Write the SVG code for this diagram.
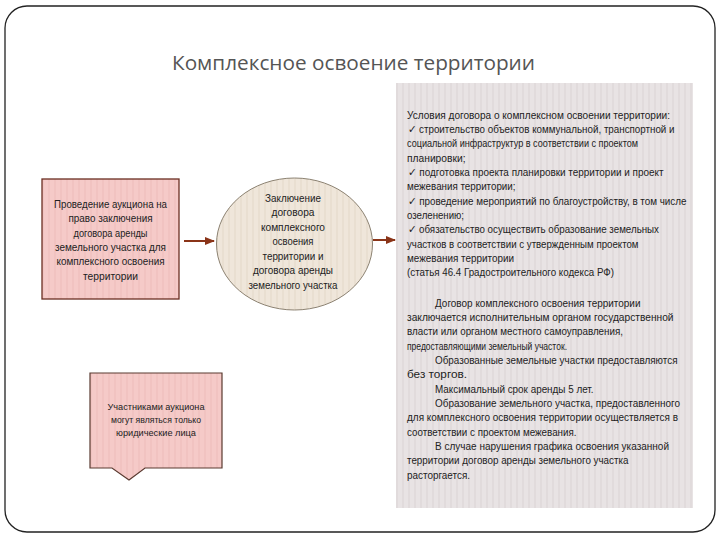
<svg xmlns="http://www.w3.org/2000/svg" width="720" height="540" viewBox="0 0 720 540">
<defs>
<pattern id="stripePink" width="6" height="10" patternUnits="userSpaceOnUse">
<rect width="6" height="10" fill="#f5cac8"/>
<rect x="0" width="2" height="10" fill="#f1c3c1"/>
</pattern>
<pattern id="stripeBeige" width="6" height="10" patternUnits="userSpaceOnUse">
<rect width="6" height="10" fill="#efe6da"/>
<rect x="0" width="2" height="10" fill="#e9dfd1"/>
</pattern>
<pattern id="stripeGray" width="6" height="10" patternUnits="userSpaceOnUse">
<rect width="6" height="10" fill="#e8e3e4"/>
<rect x="0" width="2" height="10" fill="#e1dbdc"/>
</pattern>
<marker id="arr" viewBox="0 0 10 10" refX="9" refY="5" markerWidth="5" markerHeight="5" orient="auto" markerUnits="strokeWidth">
<path d="M0,1 L10,5 L0,9 Z" fill="#8a3418"/>
</marker>
</defs>
<style>
.t{font-family:"Liberation Sans",Arial,sans-serif;font-size:10.5px;fill:#222}
.c{text-anchor:middle}
.s{font-size:9.5px}
.title{font-family:"Open Sans","Noto Sans",sans-serif;font-size:20px;fill:#555;text-anchor:middle}
.conn{stroke:#8a3418;stroke-width:2;fill:none}
</style>
<rect width="720" height="540" fill="#ffffff"/>
<g id="frame">
<rect x="5" y="6" width="710" height="526" rx="22" ry="22" fill="none" stroke="#222" stroke-width="1.3"/>
</g>
<g id="title">
<text class="title" x="353.5" y="70" textLength="363" lengthAdjust="spacingAndGlyphs">Комплексное освоение территории</text>
</g>
<g id="node-conditions">
<rect x="396" y="83" width="297" height="425" fill="url(#stripeGray)"/>
<text class="t" x="407" y="118.5" textLength="263" lengthAdjust="spacingAndGlyphs">Условия договора о комплексном освоении территории:</text>
<text class="t" x="408" y="132.9" textLength="266.5" lengthAdjust="spacingAndGlyphs">✓ строительство объектов коммунальной, транспортной и</text>
<text class="t" x="407" y="147.2" textLength="231" lengthAdjust="spacingAndGlyphs">социальной инфраструктур в соответствии с проектом</text>
<text class="t" x="407" y="161.6" textLength="58.5" lengthAdjust="spacingAndGlyphs">планировки;</text>
<text class="t" x="408" y="175.9" textLength="255.5" lengthAdjust="spacingAndGlyphs">✓ подготовка проекта планировки территории и проект</text>
<text class="t" x="407" y="190.3" textLength="108.5" lengthAdjust="spacingAndGlyphs">межевания территории;</text>
<text class="t" x="408" y="204.6" textLength="278.5" lengthAdjust="spacingAndGlyphs">✓ проведение мероприятий по благоустройству, в том числе</text>
<text class="t" x="407" y="219" textLength="57" lengthAdjust="spacingAndGlyphs">озеленению;</text>
<text class="t" x="408" y="233.3" textLength="251" lengthAdjust="spacingAndGlyphs">✓ обязательство осуществить образование земельных</text>
<text class="t" x="407" y="247.7" textLength="231.5" lengthAdjust="spacingAndGlyphs">участков в соответствии с утвержденным проектом</text>
<text class="t" x="407" y="262" textLength="107" lengthAdjust="spacingAndGlyphs">межевания территории</text>
<text class="t" x="407" y="276.4" textLength="207" lengthAdjust="spacingAndGlyphs">(статья 46.4 Градостроительного кодекса РФ)</text>
<text class="t" x="435" y="306.5" textLength="205.5" lengthAdjust="spacingAndGlyphs">Договор комплексного освоения территории</text>
<text class="t" x="407" y="320.9" textLength="266.5" lengthAdjust="spacingAndGlyphs">заключается исполнительным органом государственной</text>
<text class="t" x="407" y="335.2" textLength="216" lengthAdjust="spacingAndGlyphs">власти или органом местного самоуправления,</text>
<text class="t" x="407" y="349.6" textLength="160" lengthAdjust="spacingAndGlyphs">предоставляющими земельный участок.</text>
<text class="t" x="435" y="363.9" textLength="242.5" lengthAdjust="spacingAndGlyphs">Образованные земельные участки предоставляются</text>
<text class="t" x="407" y="378.3" textLength="60" lengthAdjust="spacingAndGlyphs">без торгов.</text>
<text class="t" x="435" y="392.6" textLength="158.5" lengthAdjust="spacingAndGlyphs">Максимальный срок аренды 5 лет.</text>
<text class="t" x="435" y="407" textLength="245" lengthAdjust="spacingAndGlyphs">Образование земельного участка, предоставленного</text>
<text class="t" x="407" y="421.3" textLength="271" lengthAdjust="spacingAndGlyphs">для комплексного освоения территории осуществляется в</text>
<text class="t" x="407" y="435.7" textLength="169.5" lengthAdjust="spacingAndGlyphs">соответствии с проектом межевания.</text>
<text class="t" x="435" y="450" textLength="234" lengthAdjust="spacingAndGlyphs">В случае нарушения графика освоения указанной</text>
<text class="t" x="407" y="464.4" textLength="221.5" lengthAdjust="spacingAndGlyphs">территории договор аренды земельного участка</text>
<text class="t" x="407" y="478.7" textLength="63" lengthAdjust="spacingAndGlyphs">расторгается.</text>
</g>
<g id="node-auction">
<rect x="42" y="179" width="137" height="120" fill="url(#stripePink)" stroke="#6b2e22" stroke-width="1.3"/>
<text class="t c" x="110.5" y="208" textLength="113" lengthAdjust="spacingAndGlyphs">Проведение аукциона на</text>
<text class="t c" x="110.5" y="222.3" textLength="84" lengthAdjust="spacingAndGlyphs">право заключения</text>
<text class="t c" x="110.5" y="236.6" textLength="74" lengthAdjust="spacingAndGlyphs">договора аренды</text>
<text class="t c" x="110.5" y="250.9" textLength="111" lengthAdjust="spacingAndGlyphs">земельного участка для</text>
<text class="t c" x="110.5" y="265.2" textLength="108" lengthAdjust="spacingAndGlyphs">комплексного освоения</text>
<text class="t c" x="110.5" y="279.5" textLength="55" lengthAdjust="spacingAndGlyphs">территории</text>
</g>
<g id="node-contract">
<ellipse cx="294.5" cy="244" rx="78" ry="66" fill="url(#stripeBeige)" stroke="#8c8272" stroke-width="1"/>
<text class="t c" x="293" y="202" textLength="56" lengthAdjust="spacingAndGlyphs">Заключение</text>
<text class="t c" x="293" y="216.4" textLength="43" lengthAdjust="spacingAndGlyphs">договора</text>
<text class="t c" x="293" y="230.9" textLength="64" lengthAdjust="spacingAndGlyphs">комплексного</text>
<text class="t c" x="293" y="245.4" textLength="41" lengthAdjust="spacingAndGlyphs">освоения</text>
<text class="t c" x="293" y="259.9" textLength="61" lengthAdjust="spacingAndGlyphs">территории и</text>
<text class="t c" x="293" y="274.4" textLength="80" lengthAdjust="spacingAndGlyphs">договора аренды</text>
<text class="t c" x="293" y="288.9" textLength="89" lengthAdjust="spacingAndGlyphs">земельного участка</text>
</g>
<g id="node-participants">
<path d="M90,373 H222 V468 H145 L129,480 L112,468 H90 Z" fill="url(#stripePink)" stroke="#5a3a30" stroke-width="1.2"/>
<text class="t s c" x="156" y="410" textLength="97" lengthAdjust="spacingAndGlyphs">Участниками аукциона</text>
<text class="t s c" x="156" y="423" textLength="90" lengthAdjust="spacingAndGlyphs">могут являться только</text>
<text class="t s c" x="156" y="435.5" textLength="80" lengthAdjust="spacingAndGlyphs">юридические лица</text>
</g>
<g id="connectors">
<line class="conn" x1="184" y1="241" x2="214" y2="241" marker-end="url(#arr)"/>
<line class="conn" x1="373" y1="240" x2="395" y2="240" marker-end="url(#arr)"/>
</g>
</svg>
